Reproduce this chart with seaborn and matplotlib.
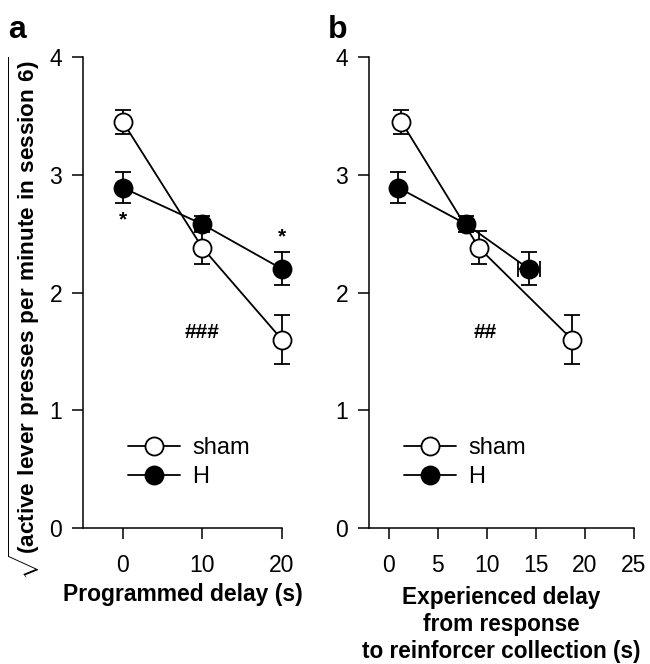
import numpy as np
import pandas as pd
import matplotlib
matplotlib.use('Agg')
import matplotlib.pyplot as plt
import seaborn as sns
from matplotlib.lines import Line2D

# data
groups = ['sham', 'H']
prog_delay = [0, 10, 20]
sham_mean = [3.45, 2.38, 1.60]
sham_sem = [0.10, 0.14, 0.21]
h_mean = [2.89, 2.58, 2.20]
h_sem = [0.13, 0.07, 0.14]

# experienced delay (panel b), x positions and x errors
sham_exp = [1.3, 9.2, 18.7]
sham_exp_err = [0.3, 0.5, 0.5]
h_exp = [1.0, 7.9, 14.3]
h_exp_err = [0.3, 0.4, 1.1]

sns.set_style('ticks')
plt.rcParams['font.family'] = ['Liberation Sans', 'DejaVu Sans']
plt.rcParams['mathtext.fontset'] = 'custom'
plt.rcParams['mathtext.rm'] = 'Liberation Sans'
plt.rcParams['mathtext.bf'] = 'Liberation Sans:bold'
for k in ['text.color', 'axes.labelcolor', 'xtick.color', 'ytick.color', 'axes.edgecolor']:
    plt.rcParams[k] = 'black'

df_a = pd.DataFrame({
    'x': prog_delay * 2,
    'y': sham_mean + h_mean,
    'group': ['sham'] * 3 + ['H'] * 3,
})
df_b = pd.DataFrame({
    'x': sham_exp + h_exp,
    'y': sham_mean + h_mean,
    'group': ['sham'] * 3 + ['H'] * 3,
})

fig = plt.figure(figsize=(6.5, 6.64), dpi=100)
ax1 = fig.add_axes([0.1277, 0.2048, 0.3061, 0.7093])
ax2 = fig.add_axes([0.5677, 0.2048, 0.4077, 0.7093])

fc = {'sham': 'white', 'H': 'black'}
ms = 13
lw = 1.3


def draw(ax, df, xerr_dict, leg_x):
    sns.lineplot(data=df, x='x', y='y', hue='group', hue_order=groups,
                 palette={'sham': 'black', 'H': 'black'}, ax=ax,
                 legend=False, lw=lw, sort=False)
    for g, m, s in [('sham', sham_mean, sham_sem), ('H', h_mean, h_sem)]:
        sub = df[df['group'] == g]
        ax.errorbar(sub['x'], sub['y'], yerr=s, xerr=xerr_dict[g], fmt='o',
                    color='black', mfc=fc[g], mec='black', mew=lw, ms=ms,
                    capsize=6, elinewidth=lw, capthick=lw, zorder=3, clip_on=False)
    ax.set_ylim(0, 4)
    ax.set_yticks([0, 1, 2, 3, 4])
    sns.despine(ax=ax)
    ax.tick_params(direction='out', length=8, width=1.1, labelsize=16.5)
    ax.tick_params(axis='x', pad=11)
    ax.tick_params(axis='y', pad=7)
    for sp in ['left', 'bottom']:
        ax.spines[sp].set_linewidth(1.1)
    handles = [
        Line2D([], [], color='black', lw=lw, marker='o', mfc='white', mec='black', mew=lw, ms=ms),
        Line2D([], [], color='black', lw=lw, marker='o', mfc='black', mec='black', mew=lw, ms=ms),
    ]
    ax.legend(handles, groups, loc='lower left', bbox_to_anchor=(leg_x, 0.04),
              frameon=False, fontsize=17, handlelength=2.2, handletextpad=0.5,
              labelspacing=0.3)


draw(ax1, df_a, {'sham': None, 'H': None}, 0.12)
draw(ax2, df_b, {'sham': sham_exp_err, 'H': h_exp_err}, 0.053)

ax1.set_xlim(-5, 20)
ax1.set_xticks([0, 10, 20])
ax2.set_xlim(-2, 25)
ax2.set_xticks([0, 5, 10, 15, 20, 25])

ax1.set_xlabel('Programmed delay (s)', fontsize=16.5, fontweight='bold', labelpad=4)
ax2.set_xlabel('Experienced delay\nfrom response\nto reinforcer collection (s)',
               fontsize=16.3, fontweight='bold', linespacing=1.22, labelpad=6)
ax2.set_ylabel('')
ax1.set_ylabel(r'$\sqrt{\mathbf{(active\ lever\ presses\ per\ minute\ in\ session\ 6)}}$',
               fontsize=16.2)
ax1.yaxis.set_label_coords(-0.206, 0.445)

# significance markers
ax1.text(0, 2.62, '*', ha='center', va='center', fontsize=15, fontweight='bold')
ax1.text(20, 2.47, '*', ha='center', va='center', fontsize=15, fontweight='bold')
ax1.text(10, 1.66, '###', ha='center', va='center', fontsize=15, fontweight='bold')
ax2.text(9.8, 1.66, '##', ha='center', va='center', fontsize=15, fontweight='bold')

fig.text(0.012, 0.955, 'a', fontsize=23, fontweight='bold', va='center')
fig.text(0.505, 0.955, 'b', fontsize=23, fontweight='bold', va='center')

fig.savefig('out.png', dpi=100)
